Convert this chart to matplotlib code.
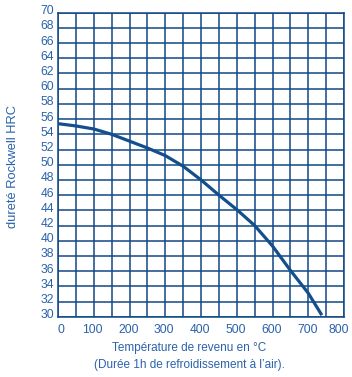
import matplotlib.pyplot as plt
from matplotlib.transforms import ScaledTranslation
import numpy as np

plt.rcParams['font.family'] = ['Liberation Sans', 'DejaVu Sans']

# tempering curve
temp = [0, 50, 100, 150, 200, 250, 300, 350, 400, 450, 500, 550, 600, 650, 700, 738]
hrc = [55.4, 55.1, 54.7, 54.0, 53.1, 52.2, 51.2, 49.8, 48.0, 46.0, 44.1, 42.0, 39.3, 36.1, 33.1, 30.2]

xticks = list(range(0, 801, 100))
yticks = list(range(30, 71, 2))

c_grid = '#0f4886'
c_line = '#134f8c'
c_text = '#2a62aa'

fig = plt.figure(figsize=(3.52, 3.77), dpi=100)
ax = fig.add_axes([58/352, 1 - 316.7/377, 286/352, 304/377])

ax.set_xlim(0, 800)
ax.set_ylim(30, 70)
ax.set_xticks(xticks)
ax.set_yticks(yticks)
ax.set_xticks(np.arange(0, 801, 50), minor=True)
ax.grid(True, which='both', axis='x', color=c_grid, linewidth=1.1)
ax.grid(True, which='major', axis='y', color=c_grid, linewidth=1.1)
for s in ax.spines.values():
    s.set_color(c_grid)
    s.set_linewidth(1.1)
ax.tick_params(which='both', length=0, colors=c_text, labelsize=8.7)
ax.tick_params(axis='y', pad=3)
ax.tick_params(axis='x', pad=5)

# y labels sit a little above their grid lines
off = ScaledTranslation(0, 3/100, fig.dpi_scale_trans)
for lab in ax.get_yticklabels():
    lab.set_transform(lab.get_transform() + off)
# first and last x labels are pulled inwards
xshift = {0: 3, 800: -5}
for t, lab in zip(xticks, ax.get_xticklabels()):
    dx = xshift.get(t, -1)
    lab.set_transform(lab.get_transform() + ScaledTranslation(dx/100, 0, fig.dpi_scale_trans))

ax.plot(temp, hrc, color=c_line, linewidth=2.3, solid_capstyle='butt', zorder=5)

fig.text(13/352, 1 - 166/377, 'dureté Rockwell HRC', color=c_text, fontsize=9.3,
         rotation=90, ha='center', va='center')
fig.text(189/352, 1 - 348/377, 'Température de revenu en °C', color=c_text,
         fontsize=8.5, ha='center', va='center')
fig.text(189/352, 1 - 365/377, '(Durée 1h de refroidissement à l\u2019air).', color=c_text,
         fontsize=8.5, ha='center', va='center')

fig.savefig('out.png', dpi=100, facecolor='white')
